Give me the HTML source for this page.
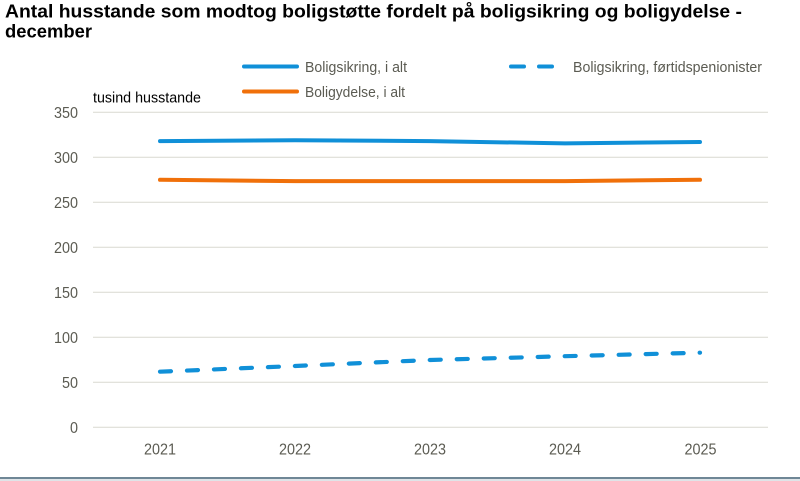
<!DOCTYPE html>
<html>
<head>
<meta charset="utf-8">
<style>
html,body{margin:0;padding:0;background:#fff;}
svg{display:block;}
</style>
</head>
<body>
<svg width="800" height="481" viewBox="0 0 800 481" xmlns="http://www.w3.org/2000/svg" font-family="'Liberation Sans', Arial, sans-serif">
  <rect width="800" height="481" fill="#fff"/>
  <!-- Title -->
  <text x="5" y="17.5" font-size="18" font-weight="bold" fill="#000" textLength="737" lengthAdjust="spacingAndGlyphs">Antal husstande som modtog boligstøtte fordelt på boligsikring og boligydelse -</text>
  <text x="5" y="37.5" font-size="18" font-weight="bold" fill="#000" textLength="87" lengthAdjust="spacingAndGlyphs">december</text>

  <!-- Legend -->
  <line x1="244" y1="66.5" x2="297" y2="66.5" stroke="#1090d8" stroke-width="4" stroke-linecap="round"/>
  <text x="305" y="72" font-size="15" fill="#5b5b52" textLength="102" lengthAdjust="spacingAndGlyphs">Boligsikring, i alt</text>
  <line x1="244" y1="91.5" x2="297" y2="91.5" stroke="#f0700a" stroke-width="4" stroke-linecap="round"/>
  <text x="305" y="97" font-size="15" fill="#5b5b52" textLength="100" lengthAdjust="spacingAndGlyphs">Boligydelse, i alt</text>
  <line x1="511" y1="66.5" x2="524" y2="66.5" stroke="#1090d8" stroke-width="4" stroke-linecap="round"/>
  <line x1="539" y1="66.5" x2="552" y2="66.5" stroke="#1090d8" stroke-width="4" stroke-linecap="round"/>
  <text x="573" y="72" font-size="15" fill="#5b5b52" textLength="189" lengthAdjust="spacingAndGlyphs">Boligsikring, førtidspenionister</text>

  <!-- Axis unit label -->
  <text x="93" y="102.5" font-size="15" fill="#000" textLength="108" lengthAdjust="spacingAndGlyphs">tusind husstande</text>

  <!-- Gridlines -->
  <g stroke="#d9d9d0" stroke-width="1">
    <line x1="93" y1="112.3" x2="768" y2="112.3"/>
    <line x1="93" y1="157.3" x2="768" y2="157.3"/>
    <line x1="93" y1="202.3" x2="768" y2="202.3"/>
    <line x1="93" y1="247.3" x2="768" y2="247.3"/>
    <line x1="93" y1="292.3" x2="768" y2="292.3"/>
    <line x1="93" y1="337.3" x2="768" y2="337.3"/>
    <line x1="93" y1="382.3" x2="768" y2="382.3"/>
    <line x1="93" y1="427.3" x2="768" y2="427.3"/>
  </g>

  <!-- Y tick labels -->
  <g font-size="16" fill="#5b5b52" text-anchor="end">
    <text x="78" y="118" textLength="24" lengthAdjust="spacingAndGlyphs">350</text>
    <text x="78" y="163" textLength="24" lengthAdjust="spacingAndGlyphs">300</text>
    <text x="78" y="208" textLength="24" lengthAdjust="spacingAndGlyphs">250</text>
    <text x="78" y="253" textLength="24" lengthAdjust="spacingAndGlyphs">200</text>
    <text x="78" y="298" textLength="24" lengthAdjust="spacingAndGlyphs">150</text>
    <text x="78" y="343" textLength="24" lengthAdjust="spacingAndGlyphs">100</text>
    <text x="78" y="388" textLength="16" lengthAdjust="spacingAndGlyphs">50</text>
    <text x="78" y="433" textLength="8" lengthAdjust="spacingAndGlyphs">0</text>
  </g>

  <!-- X tick labels -->
  <g font-size="16" fill="#5b5b52" text-anchor="middle">
    <text x="160" y="454.5" textLength="32" lengthAdjust="spacingAndGlyphs">2021</text>
    <text x="295" y="454.5" textLength="32" lengthAdjust="spacingAndGlyphs">2022</text>
    <text x="430" y="454.5" textLength="32" lengthAdjust="spacingAndGlyphs">2023</text>
    <text x="565" y="454.5" textLength="32" lengthAdjust="spacingAndGlyphs">2024</text>
    <text x="700.5" y="454.5" textLength="32" lengthAdjust="spacingAndGlyphs">2025</text>
  </g>

  <!-- Series -->
  <polyline points="160,141.1 295,140.2 430,141.1 565,143.4 700,142.0" fill="none" stroke="#1090d8" stroke-width="4" stroke-linecap="round" stroke-linejoin="round"/>
  <polyline points="160,179.8 295,181.1 430,181.1 565,181.1 700,179.8" fill="none" stroke="#f0700a" stroke-width="4" stroke-linecap="round" stroke-linejoin="round"/>
  <polyline points="160,371.7 295,366 430,360 565,356.2 700,352.7" fill="none" stroke="#1090d8" stroke-width="4.2" stroke-linecap="round" stroke-linejoin="round" stroke-dasharray="11 16"/>

  <!-- Bottom border -->
  <rect x="0" y="477" width="800" height="2" fill="#6f8796"/>
  <rect x="0" y="479" width="800" height="2" fill="#dfe4e8"/>
</svg>
</body>
</html>
